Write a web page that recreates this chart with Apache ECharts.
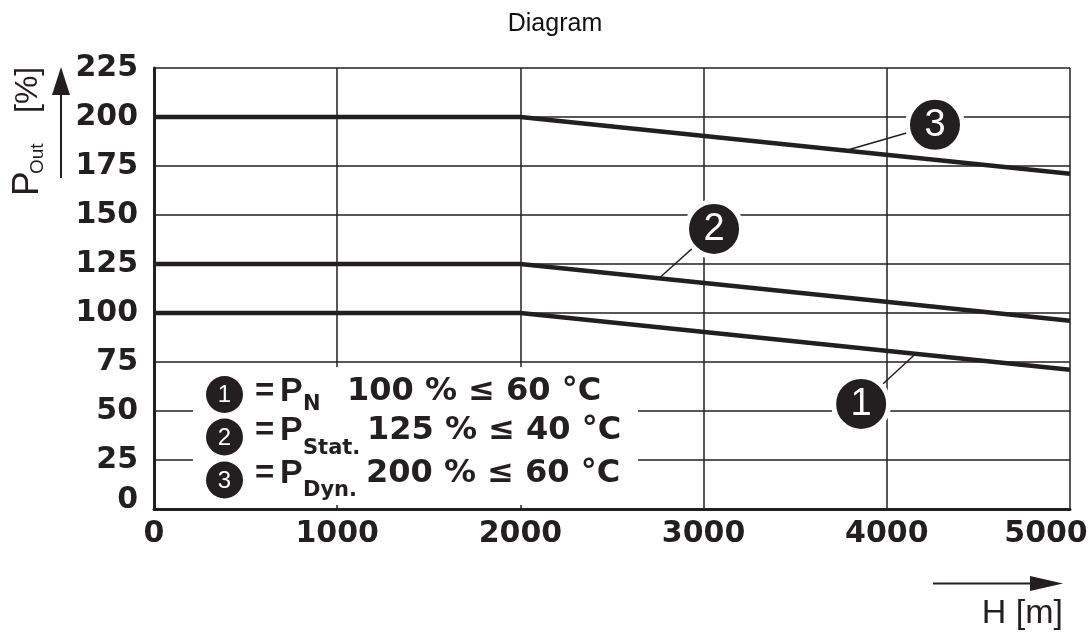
<!DOCTYPE html>
<html>
<head>
<meta charset="utf-8">
<script src="https://cdn.jsdelivr.net/npm/echarts@6/dist/echarts.min.js"></script>
<style>html,body{margin:0;padding:0;background:#fff;}#c{width:1092px;height:634px;}</style>
</head>
<body>
<div id="c"></div>
<script>
// ---- data ----
const altitudes = [0, 2000, 5000];            // H [m]
const curve1 = [100, 100, 71];                // P_N
const curve2 = [125, 125, 96];                // P_Stat.
const curve3 = [200, 200, 171];               // P_Dyn.
const xTicks = [0, 1000, 2000, 3000, 4000, 5000];
const yTicks = [0, 25, 50, 75, 100, 125, 150, 175, 200, 225];
// callout bubbles (data coords) and leader anchors on curves
const calloutLabels = ['1', '2', '3'];
const calloutX = [3860, 3057, 4263];
const calloutY = [53.6, 142.9, 196];
const anchorX = [4159, 2757, 3772];
const anchorY = [79.3, 117.7, 182.8];

const INK = '#231f20';
const BOLD = 'DejaVu Sans';
const REG = 'Liberation Sans, Arial, sans-serif';

const chart = echarts.init(document.getElementById('c'));

const lineSeries = [curve1, curve2, curve3].map((c, i) => ({
  type: 'line', name: 'c' + (i + 1),
  data: altitudes.map((x, j) => [x, c[j]]),
  symbol: 'none', z: 3,
  lineStyle: { color: INK, width: 4.5 }
}));

const leaderSeries = calloutLabels.map((l, i) => ({
  type: 'line', data: [[anchorX[i], anchorY[i]], [calloutX[i], calloutY[i]]],
  symbol: 'none', z: 4, silent: true,
  lineStyle: { color: INK, width: 1.5 }
}));

const bubbleSeries = {
  type: 'scatter', z: 6, silent: true,
  data: calloutLabels.map((l, i) => ({ value: [calloutX[i], calloutY[i]], name: l })),
  symbol: 'circle', symbolSize: 55,
  itemStyle: { color: INK, borderColor: '#fff', borderWidth: 5, opacity: 1 },
  label: { show: true, position: 'inside', formatter: p => p.name, color: '#fff',
           fontFamily: REG, fontSize: 38, offset: [0, 1] }
};

// legend graphic
const legRows = [
  { num: '1', sub: 'N', text: '100 % ≤ 60 °C', cy: 391.5, subCy: 405, circY: 394.5, tx: 347 },
  { num: '2', sub: 'Stat.', text: '125 % ≤ 40 °C', cy: 431, subCy: 449, circY: 437, tx: 367 },
  { num: '3', sub: 'Dyn.', text: '200 % ≤ 60 °C', cy: 474, subCy: 491, circY: 480, tx: 366 }
];
const legendGraphics = [{
  type: 'rect', shape: { x: 193, y: 367, width: 445, height: 138 },
  style: { fill: '#fff' }, z: 5
}];
legRows.forEach(r => {
  legendGraphics.push({ type: 'circle', shape: { cx: 224.5, cy: r.circY, r: 18.5 }, style: { fill: INK }, z: 6 });
  legendGraphics.push({ type: 'text', x: 224.5, y: r.circY + 1, z: 7,
    style: { text: r.num, fill: '#fff', font: '24px ' + REG, align: 'center', verticalAlign: 'middle' } });
  legendGraphics.push({ type: 'text', x: 255, y: r.cy, z: 7,
    style: { text: '=', fill: INK, font: 'bold 33px ' + REG, align: 'left', verticalAlign: 'middle' } });
  legendGraphics.push({ type: 'text', x: 280, y: r.cy, z: 7,
    style: { text: 'P', fill: INK, font: 'bold 34px ' + REG, align: 'left', verticalAlign: 'middle' } });
  legendGraphics.push({ type: 'text', x: 303, y: r.subCy, z: 7,
    style: { text: r.sub, fill: INK, font: 'bold 21px ' + BOLD, align: 'left', verticalAlign: 'middle' } });
  legendGraphics.push({ type: 'text', x: r.tx, y: r.cy, z: 7,
    style: { text: r.text, fill: INK, font: 'bold 32px ' + BOLD, align: 'left', verticalAlign: 'middle' } });
});

const option = {
  animation: false,
  backgroundColor: '#fff',
  title: { text: 'Diagram', left: 550, top: 7, textAlign: 'center',
           textStyle: { fontFamily: REG, fontWeight: 'normal', fontSize: 25, color: '#111' } },
  grid: { left: 154, right: 22, top: 68, bottom: 125, containLabel: false, outerBoundsMode: 'none' },
  xAxis: {
    type: 'value', min: 0, max: 5000, interval: 1000,
    axisLine: { show: true, lineStyle: { color: INK, width: 3 } },
    axisTick: { show: false },
    splitLine: { show: true, lineStyle: { color: INK, width: 1.5 } },
    axisLabel: { margin: 10, color: INK, fontFamily: BOLD, fontWeight: 'bold', fontSize: 30,
                 formatter: v => xTicks.includes(v) ? (v === 5000 ? '{e|' + v + '}' : String(v)) : '',
                 rich: { e: { fontFamily: BOLD, fontWeight: 'bold', fontSize: 30, color: INK, padding: [0, 48, 0, 0] } } }
  },
  yAxis: {
    type: 'value', min: 0, max: 225, interval: 25,
    axisLine: { show: true, lineStyle: { color: INK, width: 3 } },
    axisTick: { show: false },
    splitLine: { show: true, lineStyle: { color: INK, width: 1.5 } },
    axisLabel: { margin: 16, color: INK, fontFamily: BOLD, fontWeight: 'bold', fontSize: 30,
                 formatter: v => yTicks.includes(v) ? (v === 0 ? '{z|0}' : String(v)) : '',
                 rich: { z: { fontFamily: BOLD, fontWeight: 'bold', fontSize: 30, color: INK, padding: [0, 0, 18, 0] } } }
  },
  series: [...lineSeries, ...leaderSeries, bubbleSeries],
  graphic: [
    ...legendGraphics,
    // y axis name (rotated)
    { type: 'group', x: 27.5, y: 196, rotation: Math.PI / 2, children: [
      { type: 'text', x: 0, y: 0, style: { text: 'P', fill: INK, font: '37px ' + REG, align: 'left', verticalAlign: 'middle' } },
      { type: 'text', x: 22, y: 10, style: { text: 'Out', fill: INK, font: '19px ' + REG, align: 'left', verticalAlign: 'middle' } },
      { type: 'text', x: 83, y: 1, style: { text: '[%]', fill: INK, font: '32px ' + REG, align: 'left', verticalAlign: 'middle' } }
    ] },
    // y arrow
    { type: 'line', shape: { x1: 61, y1: 178, x2: 61, y2: 92 }, style: { stroke: INK, lineWidth: 2 } },
    { type: 'polygon', shape: { points: [[61, 67], [52, 95], [70, 95]] }, style: { fill: INK } },
    // x arrow
    { type: 'line', shape: { x1: 933, y1: 583.5, x2: 1035, y2: 583.5 }, style: { stroke: INK, lineWidth: 2 } },
    { type: 'polygon', shape: { points: [[1063, 583.5], [1030, 576], [1030, 591]] }, style: { fill: INK } },
    { type: 'text', x: 1063, y: 614, style: { text: 'H [m]', fill: INK, font: '34px ' + REG, align: 'right', verticalAlign: 'middle' } }
  ]
};
chart.setOption(option);
</script>
</body>
</html>
